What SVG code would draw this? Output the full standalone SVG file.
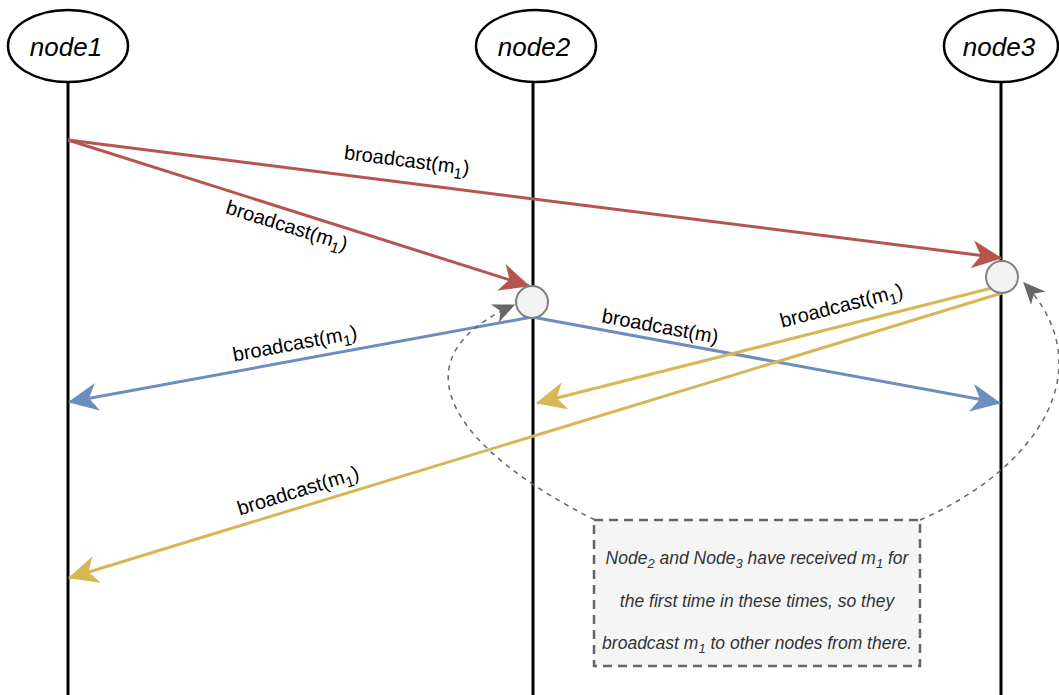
<svg xmlns="http://www.w3.org/2000/svg" width="1059" height="695" viewBox="0 0 1059 695">
<style>
.life{stroke:#000;stroke-width:3;fill:none}
.head{fill:#fff;stroke:#000;stroke-width:2.5}
.ntxt{font-family:"Liberation Sans",Arial,sans-serif;font-style:italic;font-size:26px;fill:#000}
.lbl{font-family:"Liberation Sans",Arial,sans-serif;font-size:20px;fill:#000}
.red{stroke:#b85450;stroke-width:3;fill:none}
.blue{stroke:#6c8ebf;stroke-width:3;fill:none}
.yel{stroke:#d6b656;stroke-width:3;fill:none}
.dash{stroke:#666;stroke-width:1.5;stroke-dasharray:5 5;fill:none}
.act{fill:#f2f2f2;stroke:#808080;stroke-width:2}
.note{fill:#f5f5f5;stroke:#666;stroke-width:2.5;stroke-dasharray:9 6}
.ntext{font-family:"Liberation Sans",Arial,sans-serif;font-style:italic;font-size:17.5px;fill:#333}
</style>
<defs>
<marker id="aR" markerUnits="userSpaceOnUse" markerWidth="30" markerHeight="30" viewBox="0 0 28 28" refX="27" refY="14" orient="auto"><path d="M0,1 L28,14 L0,27 L8,14 z" fill="#b85450"/></marker>
<marker id="aB" markerUnits="userSpaceOnUse" markerWidth="30" markerHeight="30" viewBox="0 0 28 28" refX="27" refY="14" orient="auto"><path d="M0,1 L28,14 L0,27 L8,14 z" fill="#6c8ebf"/></marker>
<marker id="aY" markerUnits="userSpaceOnUse" markerWidth="30" markerHeight="30" viewBox="0 0 28 28" refX="27" refY="14" orient="auto"><path d="M0,1 L28,14 L0,27 L8,14 z" fill="#d6b656"/></marker>
<marker id="aG" markerUnits="userSpaceOnUse" markerWidth="22" markerHeight="22" viewBox="0 0 18 18" refX="17" refY="9" orient="auto"><path d="M0,1 L18,9 L0,17 L5,9 z" fill="#666"/></marker>
</defs>
<rect width="1059" height="695" fill="#fff"/>
<g id="node1">
<line class="life" x1="68" y1="82" x2="68" y2="695"/>
<ellipse class="head" cx="68" cy="46" rx="60" ry="36"/>
<text class="ntxt" x="66" y="56" text-anchor="middle">node1</text>
</g>
<g id="node2">
<line class="life" x1="533" y1="82" x2="533" y2="695"/>
<ellipse class="head" cx="536" cy="46" rx="60" ry="36"/>
<text class="ntxt" x="534" y="56" text-anchor="middle">node2</text>
</g>
<g id="node3">
<line class="life" x1="1001" y1="82" x2="1001" y2="695"/>
<ellipse class="head" cx="1001" cy="46" rx="57" ry="36"/>
<text class="ntxt" x="999" y="56" text-anchor="middle">node3</text>
</g>
<g id="connectors">
<line class="red" x1="68" y1="140" x2="529" y2="286" marker-end="url(#aR)"/>
<line class="red" x1="68" y1="140" x2="1001" y2="258" marker-end="url(#aR)"/>
<line class="blue" x1="532" y1="317" x2="69" y2="402" marker-end="url(#aB)"/>
<line class="blue" x1="532" y1="317" x2="1000" y2="403" marker-end="url(#aB)"/>
<line class="yel" x1="992" y1="288" x2="537" y2="403" marker-end="url(#aY)"/>
<line class="yel" x1="1002" y1="293" x2="69" y2="578" marker-end="url(#aY)"/>
<path class="dash" d="M595,520 C455,450 390,360 514,305" marker-end="url(#aG)"/>
<path class="dash" d="M920,520 C1035,470 1105,370 1024,283" marker-end="url(#aG)"/>
</g>
<g id="act2"><circle class="act" cx="532" cy="302" r="16"/></g>
<g id="act3"><circle class="act" cx="1002" cy="277" r="16"/></g>
<g id="labels">
<text class="lbl" transform="translate(406,167) rotate(7.2)" text-anchor="middle">broadcast(m<tspan font-size="15" dy="5">1</tspan><tspan dy="-5">)</tspan></text>
<text class="lbl" transform="translate(285,232) rotate(17.5)" text-anchor="middle">broadcast(m<tspan font-size="15" dy="5">1</tspan><tspan dy="-5">)</tspan></text>
<text class="lbl" transform="translate(296,350) rotate(-10.4)" text-anchor="middle">broadcast(m<tspan font-size="15" dy="5">1</tspan><tspan dy="-5">)</tspan></text>
<text class="lbl" transform="translate(659,333) rotate(10.4)" text-anchor="middle">broadcast(m)</text>
<text class="lbl" transform="translate(843,312) rotate(-14.4)" text-anchor="middle">broadcast(m<tspan font-size="15" dy="5">1</tspan><tspan dy="-5">)</tspan></text>
<text class="lbl" transform="translate(300,497) rotate(-17)" text-anchor="middle">broadcast(m<tspan font-size="15" dy="5">1</tspan><tspan dy="-5">)</tspan></text>
</g>
<g id="note">
<rect class="note" x="594" y="520" width="326" height="146"/>
<text class="ntext" x="757" y="564" text-anchor="middle">Node<tspan font-size="13" dy="4">2</tspan><tspan dy="-4"> and Node</tspan><tspan font-size="13" dy="4">3</tspan><tspan dy="-4"> have received m</tspan><tspan font-size="13" dy="4">1</tspan><tspan dy="-4"> for</tspan></text>
<text class="ntext" x="757" y="607" text-anchor="middle">the first time in these times, so they</text>
<text class="ntext" x="757" y="649" text-anchor="middle">broadcast m<tspan font-size="13" dy="4">1</tspan><tspan dy="-4"> to other nodes from there.</tspan></text>
</g>
</svg>
